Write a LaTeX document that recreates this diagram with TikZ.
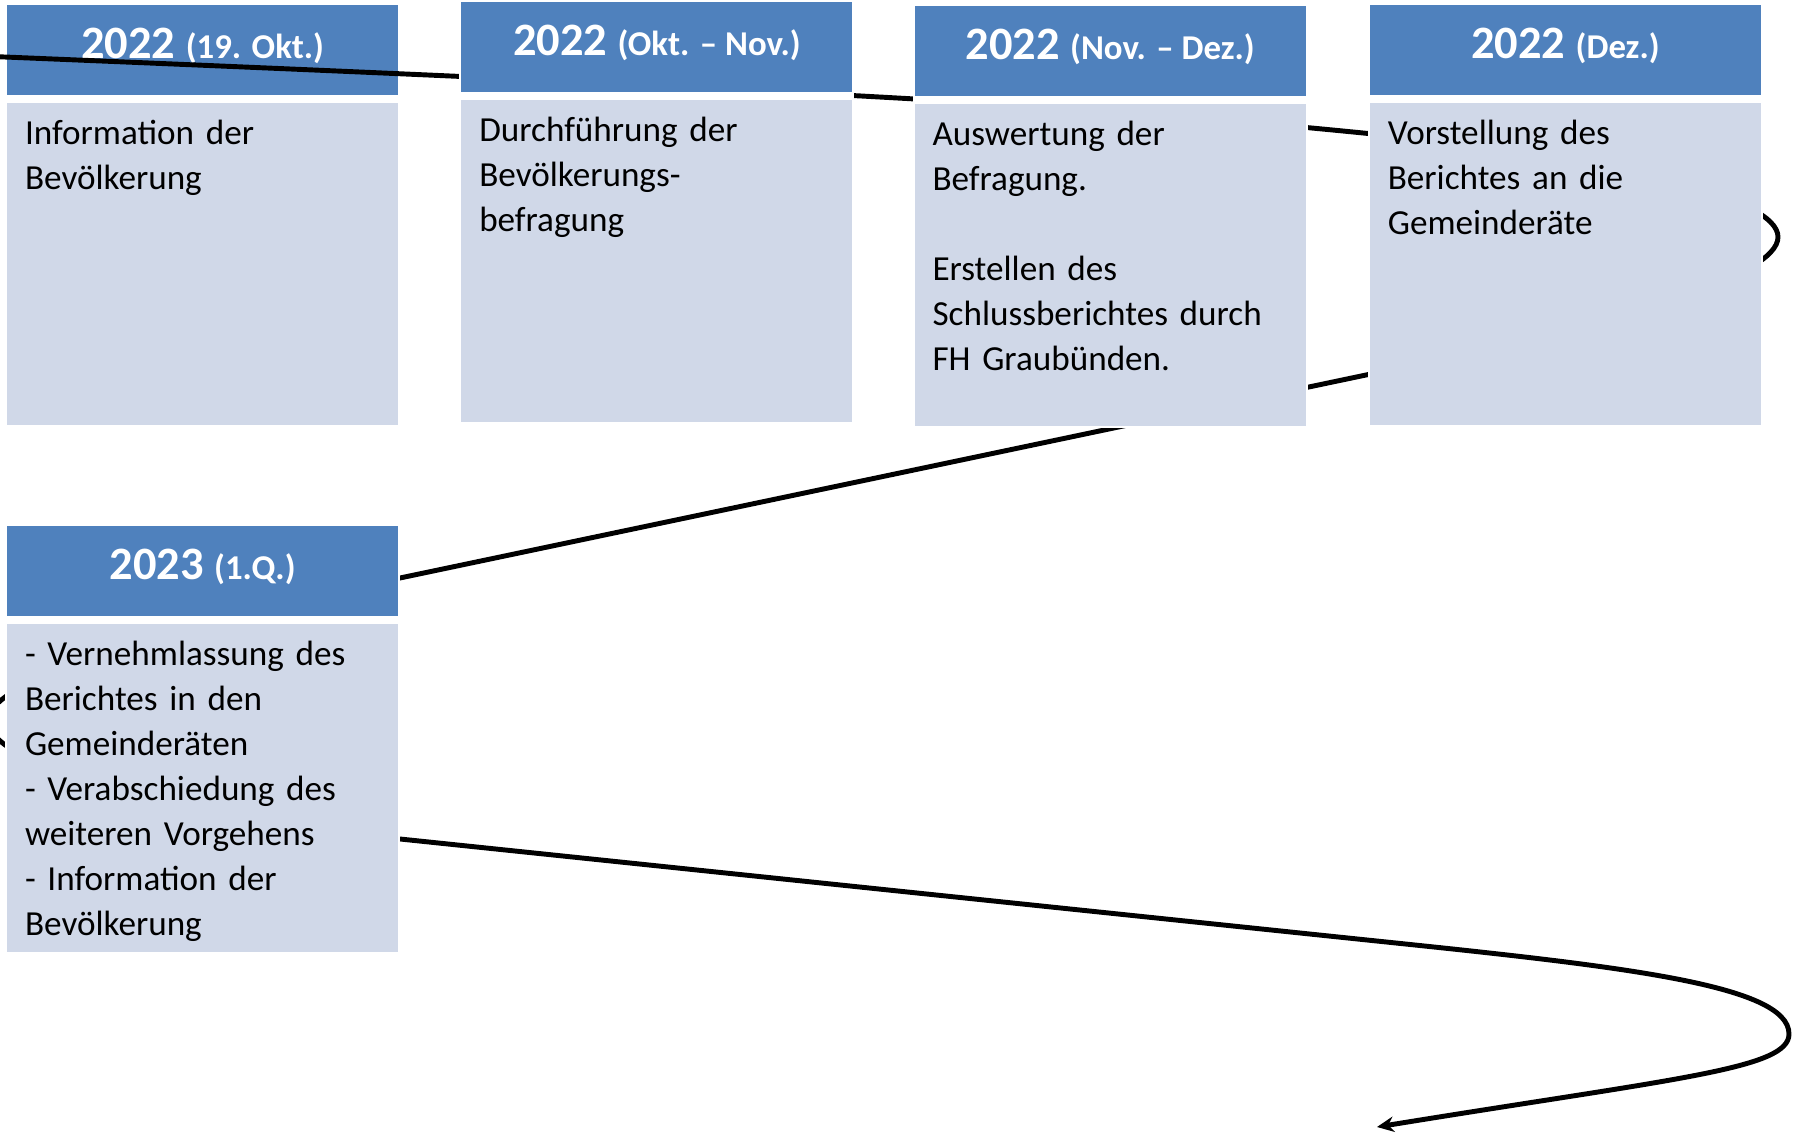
\documentclass[tikz,border=0pt]{standalone}
\usepackage{fontspec}
\setmainfont{Carlito}
\usepackage{xcolor}
\usetikzlibrary{positioning,calc,arrows.meta}
\definecolor{hdrblue}{HTML}{4F81BD}
\definecolor{taskblue}{HTML}{D0D8E8}
\pgfdeclarelayer{first}
\pgfdeclarelayer{line}
\pgfdeclarelayer{cover}
\pgfsetlayers{first,line,cover,main}
\newcommand{\yearlabel}[2]{\fontsize{13.2pt}{15pt}\selectfont #1 \fontsize{9.9pt}{12pt}\selectfont(#2)}
\tikzset{
	year/.style={fill=hdrblue, text=white, minimum width=3.91cm, minimum height=0.9cm, inner sep=0pt, outer sep=0pt, text height=0.35cm, text depth=0.19cm, font=\bfseries},
	task/.style={fill=taskblue, text width=3.55cm, inner xsep=0.18cm, inner ysep=0pt, outer sep=0pt, align=left, text height=0.41cm, text depth=2.81cm, font=\fontsize{10pt}{12.8pt}\selectfont},
	timeline/.style={line width=1.4pt, -{Stealth[length=4.8pt, width=4.4pt]}},
}

\begin{document}
\begin{tikzpicture}[x=0.01cm, y=-0.01cm]
	\useasboundingbox (0,0) rectangle (1796,1134);
	\begin{pgfonlayer}{first}
		\node[year, anchor=north west] (h1) at (7,5) {\yearlabel{2022}{19. Okt.}};
		\node[task, below=0.08cm of h1] (t1) {Information der\\Bevölkerung};
	\end{pgfonlayer}
	\node[year, right=0.63cm of h1, yshift=0.03cm] (h2) {\yearlabel{2022}{Okt. -- Nov.}};
	\node[task, below=0.08cm of h2] (t2) {Durchführung der\\Bevölkerungs-\\befragung};
	\node[year, right=0.62cm of h2, yshift=-0.04cm] (h3) {\yearlabel{2022}{Nov. -- Dez.}};
	\node[task, below=0.08cm of h3] (t3) {Auswertung der\\Befragung.\\[12.8pt]Erstellen des\\\mbox{Schlussberichtes durch}\\FH Graubünden.};
	\node[year, right=0.64cm of h3, yshift=0.01cm] (h4) {\yearlabel{2022}{Dez.}};
	\node[task, below=0.08cm of h4] (t4) {Vorstellung des\\Berichtes an die\\Gemeinderäte};
	\node[year, below=1.01cm of t1] (h5) {\yearlabel{2023}{1.Q.}};
	\node[task, below=0.08cm of h5, text depth=2.86cm] (t5) {- Vernehmlassung des\\Berichtes in den\\Gemeinderäten\\- Verabschiedung des\\weiteren Vorgehens\\- Information der\\Bevölkerung};
	\begin{pgfonlayer}{cover}
		\foreach \n in {2,...,5}
			\fill[white] ([xshift=-0.02cm,yshift=0.02cm]h\n.north west) rectangle ([xshift=0.02cm,yshift=-0.02cm]t\n.south east);
	\end{pgfonlayer}
	\coordinate (start) at (-20,56);
	\coordinate (turnR) at (1778,237);
	\coordinate (turnL) at (-12,721);
	\coordinate (turnB) at (1789,1034);
	\coordinate (end) at (1377,1127);
	\begin{pgfonlayer}{line}
		\begin{scope}
			\clip (0,0) rectangle (1796,1134);
			\draw[timeline] (start) .. controls (880,92.9) and (1116,108.3) .. (1366,133.3) .. controls (1616,158.3) and (1778,197) .. (turnR) .. controls (1778,277) and (1616,325) .. (1366,375) -- (400,578) .. controls (150,630) and (-12,681) .. (turnL) .. controls (-12,761) and (150,813) .. (400,839) -- (1367,940) .. controls (1617,966) and (1789,984) .. (turnB) .. controls (1789,1069) and (1678,1078) .. (end);
		\end{scope}
	\end{pgfonlayer}
\end{tikzpicture}
\end{document}
